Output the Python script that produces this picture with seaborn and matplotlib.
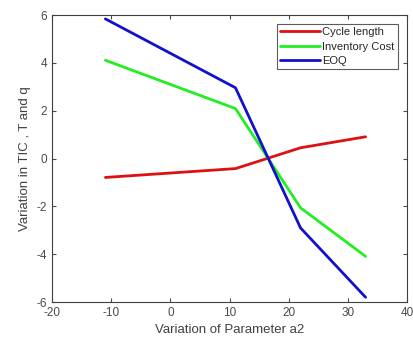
import matplotlib
matplotlib.use("Agg")
import matplotlib.pyplot as plt
import seaborn as sns
import pandas as pd

x_vals = [-11, 11, 22, 33]
cycle_length = [-0.79, -0.42, 0.45, 0.91]
inventory_cost = [4.11, 2.09, -2.06, -4.09]
eoq = [5.84, 2.96, -2.90, -5.80]
series_names = ["Cycle length", "Inventory Cost", "EOQ"]
colors = ["#dd1111", "#22ee22", "#1111cc"]

rows = []
for name, vals in zip(series_names, [cycle_length, inventory_cost, eoq]):
    for xv, yv in zip(x_vals, vals):
        rows.append({"x": xv, "y": yv, "series": name})
df = pd.DataFrame(rows)

sns.set_style("white")
plt.rcParams["font.family"] = ["Liberation Sans", "DejaVu Sans"]
plt.rcParams["axes.unicode_minus"] = False

fig = plt.figure(figsize=(4.14, 3.5), dpi=100)
ax = fig.add_axes([0.126, 0.137, 0.857, 0.82])
sns.lineplot(data=df, x="x", y="y", hue="series", hue_order=series_names,
             palette=colors, linewidth=2.0, ax=ax, sort=False)

ax.set_xlim(-20, 40)
ax.set_ylim(-6, 6)
ax.set_xticks([-20, -10, 0, 10, 20, 30, 40])
ax.set_yticks([-6, -4, -2, 0, 2, 4, 6])
ax.tick_params(direction="in", length=3, labelsize=8.5, colors="#4a4a4a",
               top=True, right=True, bottom=True, left=True)
for sp in ax.spines.values():
    sp.set_color("#404040")
    sp.set_linewidth(0.8)
ax.set_xlabel("Variation of Parameter a2", fontsize=9.5, color="#404040")
ax.set_ylabel("Variation in TIC , T and q", fontsize=9.5, color="#404040")

leg = ax.legend(loc="upper right", fontsize=8, frameon=True, fancybox=False,
                borderpad=0.3, handlelength=3.6, handletextpad=0.2,
                labelspacing=0.4, borderaxespad=0.8)
leg.get_frame().set_edgecolor("#333333")
leg.get_frame().set_linewidth(0.8)
leg.set_title(None)

fig.savefig("out.png", dpi=100, facecolor="white")
